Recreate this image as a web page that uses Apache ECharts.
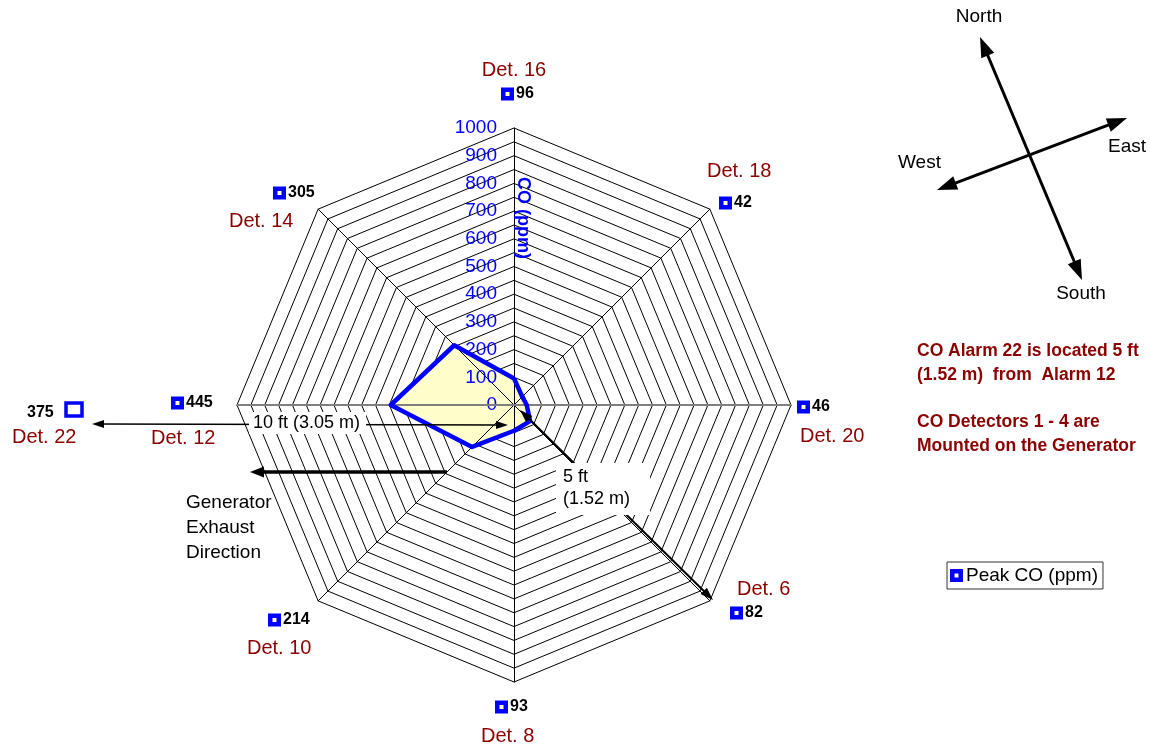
<!DOCTYPE html>
<html><head><meta charset="utf-8">
<script src="https://cdn.jsdelivr.net/npm/echarts@6/dist/echarts.min.js"></script>
<style>html,body{margin:0;padding:0;background:#fff}#c{width:1150px;height:746px}</style>
</head><body><div id="c"></div>
<script>
// ---------- data ----------
const detectors = ['Det. 16','Det. 14','Det. 12','Det. 10','Det. 8','Det. 6','Det. 20','Det. 18'];
const peakCO = [96, 305, 445, 214, 93, 82, 46, 42];
const extraDetector = 'Det. 22';
const extraPeakCO = 375;
const axisMin = 0;
const axisMax = 1000;
const ringStep = 50;
const labelStep = 100;
const seriesName = 'Peak CO (ppm)';
const axisTitle = 'CO (ppm)';
const notes = ['CO Alarm 22 is located 5 ft', '(1.52 m)  from  Alarm 12', '', 'CO Detectors 1 - 4 are', 'Mounted on the Generator'];
const exhaustText = ['Generator', 'Exhaust', 'Direction'];
const distLong = '10 ft (3.05 m)';
const distShort = ['5 ft', '(1.52 m)'];
const compassNames = ['North', 'South', 'East', 'West'];

// ---------- layout ----------
const CX = 514, CY = 405, R = 277;
const FONT = '"Liberation Sans", Arial, Helvetica, sans-serif';
const RED = '#8B0000';
const BLUE = '#0000FF';
const FILL = '#FFFFCC';
// label placement for each detector: name text (x, y, align), marker box (left x, center y)
const labelLayout = {
  'Det. 16': {nx: 514, ny: 70, na: 'center', bx: 501, by: 94},
  'Det. 18': {nx: 707, ny: 171, na: 'left', bx: 719, by: 203},
  'Det. 20': {nx: 800, ny: 436, na: 'left', bx: 797, by: 407},
  'Det. 6':  {nx: 737, ny: 589, na: 'left', bx: 730, by: 613},
  'Det. 8':  {nx: 481, ny: 736, na: 'left', bx: 495, by: 707},
  'Det. 10': {nx: 247, ny: 648, na: 'left', bx: 268, by: 620},
  'Det. 12': {nx: 151, ny: 438, na: 'left', bx: 171, by: 403},
  'Det. 14': {nx: 229, ny: 221, na: 'left', bx: 273, by: 193}
};

function txt(x, y, text, o) {
  o = o || {};
  const align = o.align || 'left';
  return {
    type: 'text', x: x, y: y, z: o.z || 110, rotation: o.rotation || 0,
    style: {
      text: text, fill: o.color || '#000',
      font: (o.weight || 'normal') + ' ' + (o.size || 19) + 'px ' + FONT,
      align: align, textAlign: align, verticalAlign: 'middle', textVerticalAlign: 'middle',
      backgroundColor: o.bg, padding: o.pad
    }
  };
}
function arrow(x1, y1, x2, y2, w, hl, hw, both) {
  const dx = x2 - x1, dy = y2 - y1, L = Math.hypot(dx, dy);
  const ux = dx / L, uy = dy / L, px = -uy, py = ux;
  const head = (tx, ty, sx, sy) => ({
    type: 'polygon', z: 100,
    shape: {points: [[tx, ty], [tx - sx * hl + px * hw / 2, ty - sy * hl + py * hw / 2], [tx - sx * hl - px * hw / 2, ty - sy * hl - py * hw / 2]]},
    style: {fill: '#000'}
  });
  const s = both ? hl * 0.8 : 0, e = hl * 0.8;
  const els = [{type: 'line', z: 100, shape: {x1: x1 + ux * s, y1: y1 + uy * s, x2: x2 - ux * e, y2: y2 - uy * e}, style: {stroke: '#000', lineWidth: w}}];
  els.push(head(x2, y2, ux, uy));
  if (both) els.push(head(x1, y1, -ux, -uy));
  return els;
}
function marker(x, cy) {
  return [
    {type: 'rect', z: 110, shape: {x: x, y: cy - 6.5, width: 13, height: 13}, style: {fill: BLUE}},
    {type: 'rect', z: 111, shape: {x: x + 4.5, y: cy - 2, width: 4, height: 4}, style: {fill: FILL}}
  ];
}

const graphics = [];
detectors.forEach((d, i) => {
  const L = labelLayout[d];
  graphics.push(txt(L.nx, L.ny, d, {color: RED, size: 20, align: L.na}));
  graphics.push(...marker(L.bx, L.by));
  graphics.push(txt(L.bx + 15, L.by, String(peakCO[i]), {weight: 'bold', size: 16}));
});
// Det. 22 (off-chart alarm)
graphics.push(txt(12, 437, extraDetector, {color: RED, size: 20}));
graphics.push(txt(27, 413, String(extraPeakCO), {weight: 'bold', size: 16}));
graphics.push({type: 'rect', z: 110, shape: {x: 66, y: 403, width: 16, height: 13}, style: {fill: '#fff', stroke: BLUE, lineWidth: 3.5}});
// grey horizontal axis through centre
graphics.push({type: 'line', z: 6, shape: {x1: CX - R, y1: CY, x2: CX + R, y2: CY}, style: {stroke: '#808080', lineWidth: 2}});
// axis title
graphics.push(txt(523, 218, axisTitle, {color: BLUE, weight: 'bold', size: 18, align: 'center', rotation: -Math.PI / 2}));
// 10 ft dimension
graphics.push(...arrow(92, 424, 508, 425, 1.3, 12, 8, true));
graphics.push(txt(249, 423, distLong, {size: 18, bg: '#fff', pad: [2, 6, 2, 4]}));
// 5 ft dimension
graphics.push(...arrow(520, 410, 713, 600, 2, 13, 9, true));
graphics.push({type: 'rect', z: 105, shape: {x: 556, y: 463, width: 94, height: 52}, style: {fill: '#fff'}});
graphics.push(txt(563, 477, distShort[0], {size: 18}));
graphics.push(txt(563, 499, distShort[1], {size: 18}));
// exhaust arrow
graphics.push(...arrow(447, 472, 250, 472, 3.5, 14, 11, false));
exhaustText.forEach((t, i) => graphics.push(txt(186, 503 + i * 25, t, {size: 19})));
// compass
graphics.push(...arrow(1082, 280, 980, 37, 3, 20, 14, true));
graphics.push(...arrow(937, 190, 1127, 118, 3, 20, 14, true));
graphics.push(txt(979, 17, compassNames[0], {align: 'center'}));
graphics.push(txt(1081, 294, compassNames[1], {align: 'center'}));
graphics.push(txt(1108, 147, compassNames[2]));
graphics.push(txt(898, 163, compassNames[3]));
// notes
let ny = 351;
notes.forEach(t => { if (t) graphics.push(txt(917, ny, t, {color: RED, weight: 'bold', size: 17.5})); ny += t ? 24 : 23; });

const splitNumber = (axisMax - axisMin) / ringStep;
const baseRadar = {
  center: [CX, CY], radius: R, startAngle: 90, shape: 'polygon', splitNumber: splitNumber,
  indicator: detectors.map(n => ({name: n, min: axisMin, max: axisMax})),
  axisName: {show: false}, axisLine: {show: false}, axisTick: {show: false}, axisLabel: {show: false},
  splitLine: {show: true, lineStyle: {color: '#000', width: 1}}, splitArea: {show: false}, z: 0
};
const overlayRadar = {
  center: [CX, CY], radius: R, startAngle: 90, shape: 'polygon', splitNumber: splitNumber,
  indicator: detectors.map((n, i) => {
    const o = {name: n, min: axisMin, max: axisMax};
    if (i === 0) o.axisLabel = {
      show: true, color: BLUE, fontSize: 19, fontFamily: FONT, margin: 17,
      formatter: v => (v % labelStep === 0 ? String(v) : '')
    };
    return o;
  }),
  axisName: {show: false},
  axisLine: {show: true, lineStyle: {color: '#000', width: 1}},
  axisTick: {show: false}, axisLabel: {show: false},
  splitLine: {show: false}, splitArea: {show: false}, z: 5
};

const chart = echarts.init(document.getElementById('c'), null, {renderer: 'canvas'});
chart.setOption({
  backgroundColor: '#fff',
  animation: false,
  textStyle: {fontFamily: FONT},
  legend: {
    data: [seriesName], left: 947, top: 562, orient: 'horizontal',
    icon: 'path://M0,0H10V10H0Z M3.5,3.5V6.5H6.5V3.5Z',
    itemWidth: 13, itemHeight: 13, itemGap: 4,
    itemStyle: {color: BLUE},
    borderColor: '#333', borderWidth: 1, borderRadius: 0, padding: [4, 5, 4, 3],
    textStyle: {fontSize: 19, color: '#000', fontFamily: FONT, padding: [0, 0, 0, -2]}
  },
  radar: [baseRadar, overlayRadar],
  series: [{
    // filled area
    type: 'radar', radarIndex: 0, name: seriesName, z: 2,
    symbol: 'none',
    lineStyle: {width: 0, opacity: 0},
    areaStyle: {color: FILL, opacity: 1},
    itemStyle: {color: BLUE},
    emphasis: {disabled: true},
    data: [{name: seriesName, value: peakCO}]
  }, {
    // outline on top of the fill
    type: 'radar', radarIndex: 0, name: seriesName, z: 6,
    symbol: 'none',
    lineStyle: {color: BLUE, width: 4.5, opacity: 1},
    itemStyle: {color: BLUE},
    emphasis: {disabled: true},
    data: [{name: seriesName, value: peakCO}]
  }],
  graphic: {elements: graphics}
});
</script>
</body></html>
